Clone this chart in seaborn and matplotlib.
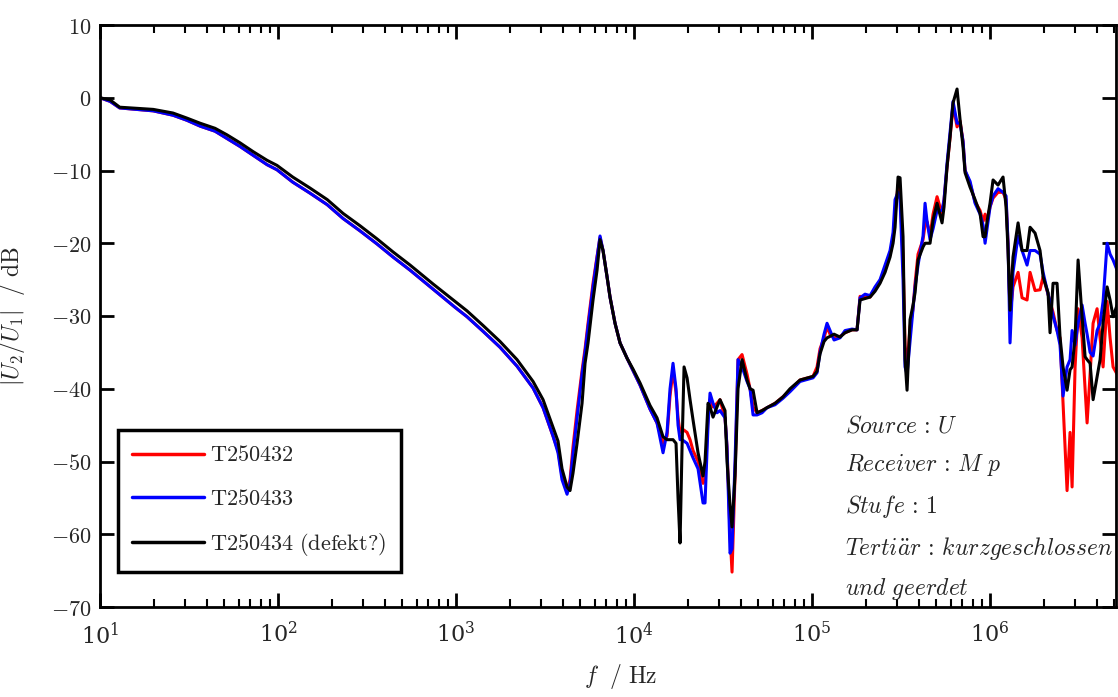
import numpy as np
import pandas as pd
import matplotlib
matplotlib.use("Agg")
import matplotlib.pyplot as plt
import seaborn as sns
from matplotlib.ticker import LogLocator, NullFormatter, FixedLocator, FuncFormatter

# Transfer function |U2/U1| of three transformers, frequency in Hz, magnitude in dB
freq_hz = [
    10, 11.4, 12.9, 19.9, 25.7, 30.8, 36.5, 44.3, 51.7, 61.2, 72.4, 86.8, 98.7,
    121, 151, 189, 232, 289, 360, 443, 552, 743, 987, 1153, 1418, 1767, 2202,
    2709, 3083, 3507, 3741, 3940, 4205, 4370, 4541, 4786, 5105, 5307, 5516,
    5884, 6198, 6442, 6697, 7053, 7331, 7821, 8344, 9136, 9872, 10808, 12300,
    13462, 14553, 15325, 15930, 16560, 17217, 17670, 18134, 18610, 19100,
    19856, 20640, 21458, 22888, 24414, 25052, 26043, 26727, 27783, 29259,
    30414, 32447, 33297, 34620, 35530, 36930, 38390, 40440, 43140, 44850,
    46630, 49100, 52380, 55880, 61980, 68740, 75220, 85600, 101300, 106700,
    110900, 116800, 121400, 126200, 132900, 143700, 153200, 167800, 179000,
    186100, 198500, 211800, 225900, 241000, 257100, 274300, 285200, 292700,
    304200, 312200, 324500, 333000, 341800, 355300, 369300, 379000, 394000,
    420300, 431400, 442700, 460200, 478500, 503900, 537500, 551600, 573400,
    596100, 619700, 652600, 678500, 705400, 723900, 772400, 823800, 879100,
    913800, 937800, 962300, 1000000, 1039600, 1108800, 1183000, 1230000,
    1262000, 1295000, 1346000, 1437000, 1513000, 1614000, 1678000, 1790000,
    1909000, 1986000, 2118000, 2173000, 2259000, 2379000, 2473000, 2571000,
    2708000, 2815000, 2890000, 3004000, 3123000, 3289000, 3419000, 3509000,
    3648000, 3792000, 3993000, 4151000, 4315000, 4545000, 4724000, 4911000,
    5171000,
]

db_t250434 = [
    0.0, -0.3, -1.3, -1.6, -2.1, -2.8, -3.5, -4.2, -5.1, -6.2, -7.4, -8.6, -9.3,
    -10.9, -12.4, -14.0, -15.9, -17.6, -19.4, -21.2, -23.0, -25.6, -28.0, -29.3,
    -31.3, -33.5, -36.0, -39.0, -41.5, -45.3, -47.2, -51.0, -53.5, -54.0, -51.6,
    -47.5, -42.0, -36.5, -33.7, -27.8, -23.7, -19.5, -21.0, -24.6, -27.4, -31.0,
    -33.7, -35.8, -37.3, -39.2, -42.3, -44.0, -46.6, -47.0, -47.0, -47.0, -47.5,
    -55.0, -61.2, -48.0, -37.0, -38.5, -41.5, -44.3, -48.8, -52.0, -50.0, -42.0,
    -42.5, -43.9, -42.5, -41.5, -43.0, -50.0, -56.0, -59.0, -52.0, -40.0, -36.0,
    -38.8, -40.0, -40.2, -43.3, -43.0, -42.6, -42.0, -41.1, -40.0, -38.8, -38.3,
    -37.6, -35.2, -33.5, -33.0, -32.8, -32.5, -32.9, -32.3, -31.9, -31.9, -27.8,
    -27.6, -27.4, -26.6, -25.5, -24.0, -21.9, -20.0, -17.8, -10.9, -11.0, -19.1,
    -36.0, -40.2, -30.5, -28.5, -26.8, -22.3, -20.5, -20.0, -20.0, -20.0, -16.8,
    -14.5, -17.2, -15.0, -9.5, -5.4, -0.7, 1.2, -3.0, -6.8, -10.3, -12.3, -14.0,
    -15.9, -19.1, -19.1, -17.0, -14.5, -11.3, -12.0, -10.9, -15.0, -21.0, -29.2,
    -21.9, -17.2, -21.0, -21.0, -17.8, -18.6, -21.0, -24.6, -26.8, -32.3, -25.5,
    -25.5, -32.9, -37.0, -40.2, -37.4, -37.0, -33.0, -22.3, -30.1, -35.6, -36.0,
    -36.5, -41.5, -38.4, -36.0, -31.0, -26.0, -27.8, -30.1, -28.5,
]

db_t250433 = [
    0.0, -0.5, -1.4, -1.8, -2.4, -3.1, -3.9, -4.6, -5.6, -6.7, -7.9, -9.2, -9.9,
    -11.6, -13.1, -14.7, -16.6, -18.3, -20.1, -21.9, -23.7, -26.3, -28.8, -30.1,
    -32.1, -34.3, -36.9, -39.9, -42.6, -46.5, -48.8, -52.5, -54.5, -53.0, -49.0,
    -44.0, -38.0, -35.0, -31.5, -26.0, -22.0, -19.0, -21.0, -24.6, -27.4, -31.0,
    -33.7, -35.8, -37.5, -39.5, -42.8, -44.7, -48.8, -46.0, -40.0, -36.5, -40.0,
    -45.0, -47.0, -47.0, -47.2, -47.5, -48.5, -49.5, -51.0, -55.7, -55.7, -45.0,
    -40.6, -42.0, -43.3, -43.0, -44.0, -48.0, -62.6, -62.0, -50.0, -36.0, -37.0,
    -39.0, -40.0, -43.6, -43.6, -43.3, -42.6, -42.2, -41.3, -40.4, -39.0, -38.5,
    -37.8, -35.0, -32.5, -31.0, -32.0, -33.3, -33.0, -32.0, -31.8, -31.9, -27.5,
    -27.0, -27.2, -26.0, -25.0, -23.0, -21.0, -18.5, -14.0, -13.0, -14.0, -25.0,
    -37.0, -38.0, -33.5, -29.0, -26.0, -23.0, -19.0, -14.5, -17.0, -19.5, -18.0,
    -15.5, -15.5, -14.0, -9.0, -4.8, -0.5, -3.5, -3.5, -6.0, -10.0, -11.5, -14.5,
    -16.0, -17.5, -20.0, -18.0, -15.0, -13.5, -12.5, -13.0, -13.5, -20.0, -33.7,
    -24.0, -19.0, -21.0, -23.0, -21.0, -21.0, -21.5, -24.0, -27.0, -28.0, -30.0,
    -32.0, -34.0, -41.0, -37.0, -36.0, -32.0, -34.0, -31.0, -28.5, -31.0, -32.5,
    -35.0, -35.5, -32.0, -31.0, -28.0, -20.0, -21.5, -22.3, -23.7,
]

db_t250432 = [
    0.0, -0.5, -1.4, -1.8, -2.4, -3.1, -3.9, -4.6, -5.6, -6.7, -7.9, -9.2, -9.9,
    -11.6, -13.1, -14.7, -16.6, -18.3, -20.1, -21.9, -23.7, -26.3, -28.8, -30.1,
    -32.1, -34.3, -36.9, -39.9, -42.6, -46.5, -48.5, -52.0, -54.0, -52.5, -48.0,
    -43.0, -37.5, -34.5, -31.0, -25.5, -21.8, -19.2, -21.0, -24.6, -27.4, -31.0,
    -33.7, -35.8, -37.5, -39.5, -42.8, -44.7, -47.5, -46.5, -41.0, -37.5, -40.5,
    -44.0, -46.0, -45.5, -45.7, -46.0, -47.0, -48.5, -50.0, -53.0, -52.5, -44.0,
    -41.5, -42.5, -42.0, -41.5, -44.0, -48.0, -60.0, -65.2, -52.0, -36.0, -35.3,
    -38.0, -40.0, -42.5, -43.3, -43.0, -42.6, -42.0, -41.1, -40.2, -38.8, -38.3,
    -37.0, -34.5, -33.0, -31.5, -32.5, -33.0, -32.8, -32.3, -31.9, -31.9, -27.3,
    -27.4, -27.4, -26.3, -25.3, -23.5, -21.5, -19.5, -16.0, -12.0, -13.0, -22.0,
    -34.0, -37.0, -31.5, -29.0, -25.5, -21.5, -19.5, -17.5, -17.0, -19.0, -16.0,
    -13.6, -16.0, -14.0, -9.5, -5.5, -1.0, -4.0, -3.2, -6.0, -10.0, -11.8, -14.3,
    -15.5, -17.0, -16.0, -17.0, -15.0, -13.8, -13.0, -13.0, -14.0, -20.0, -30.0,
    -26.0, -24.0, -27.5, -27.8, -24.0, -26.5, -26.4, -24.6, -27.0, -28.0, -29.5,
    -32.0, -33.0, -42.0, -54.0, -46.0, -53.5, -37.0, -29.0, -33.0, -40.0, -44.7,
    -38.0, -31.0, -29.0, -33.0, -37.0, -28.0, -33.0, -37.0, -38.0,
]

series_names = ["T250432", "T250433", "T250434 (defekt?)"]
series_colors = ["#ff0000", "#0000ff", "#000000"]
y_ticks = [-70, -60, -50, -40, -30, -20, -10, 0, 10]
x_limits = (10, 5.1e6)
info_lines = [
    r"$Source\,:\,U$",
    r"$Receiver\,:\,M\ p$",
    r"$Stufe\,:\,1$",
    r"$Terti\ddot{a}r\,:\,kurzgeschlossen$",
    r"$und\ geerdet$",
]

df = pd.concat(
    [
        pd.DataFrame({"f": freq_hz, "dB": vals, "series": name})
        for name, vals in zip(series_names, [db_t250432, db_t250433, db_t250434])
    ],
    ignore_index=True,
)

sns.set_style("ticks")
plt.rcParams["mathtext.fontset"] = "cm"
plt.rcParams["font.family"] = ["DejaVu Serif"]

fig = plt.figure(figsize=(11.18, 6.97), dpi=100)
ax = fig.add_axes([100 / 1118, 1 - 607 / 697, 1016 / 1118, 582 / 697])

sns.lineplot(
    data=df, x="f", y="dB", hue="series", hue_order=series_names,
    palette=dict(zip(series_names, series_colors)),
    estimator=None, sort=False, linewidth=2.2, ax=ax, legend=True,
)

ax.set_xscale("log")
ax.set_xlim(*x_limits)
ax.set_ylim(-70, 10)
ax.xaxis.set_major_locator(LogLocator(base=10, numticks=12))
ax.xaxis.set_minor_locator(LogLocator(base=10, subs=np.arange(2, 10), numticks=12))
ax.xaxis.set_minor_formatter(NullFormatter())
ax.yaxis.set_major_locator(FixedLocator(y_ticks))
ax.yaxis.set_major_formatter(FuncFormatter(lambda v, p: r"$\mathrm{%d}$" % v))

for side in ["left", "right", "top", "bottom"]:
    ax.spines[side].set_linewidth(2.0)
    ax.spines[side].set_color("black")

ax.tick_params(which="both", direction="in", top=True, right=True, color="black")
ax.tick_params(which="major", length=10, width=2)
ax.tick_params(which="minor", length=6, width=1.5)
ax.tick_params(axis="x", which="major", labelsize=16, pad=11)
ax.tick_params(axis="y", which="major", labelsize=16, pad=6)

ax.set_xlabel(r"$f\ \ /\ \mathrm{Hz}$", fontsize=17)
ax.xaxis.set_label_coords(0.512, -0.095)
ax.set_ylabel(r"$|U_2/U_1|\ \ /\ \mathrm{dB}$", fontsize=17)
ax.yaxis.set_label_coords(-0.072, 0.5)

handles, _ = ax.get_legend_handles_labels()
for h in handles:
    h.set_linewidth(2.5)
legend_labels = [r"$\mathrm{T250432}$", r"$\mathrm{T250433}$", r"$\mathrm{T250434\ (defekt?)}$"]
leg = ax.legend(
    handles, legend_labels, loc="lower left", bbox_to_anchor=(0.0177, 0.060),
    fontsize=16, frameon=True, fancybox=False, framealpha=1, edgecolor="black",
    handlelength=3.2, handletextpad=0.3, labelspacing=0.95, borderpad=0.65,
    borderaxespad=0,
)
leg.get_frame().set_linewidth(2.5)

ax.text(
    0.733, 0.33, "\n".join(info_lines), transform=ax.transAxes,
    va="top", ha="left", fontsize=17, linespacing=1.75,
)

fig.savefig("out.png", dpi=100)
